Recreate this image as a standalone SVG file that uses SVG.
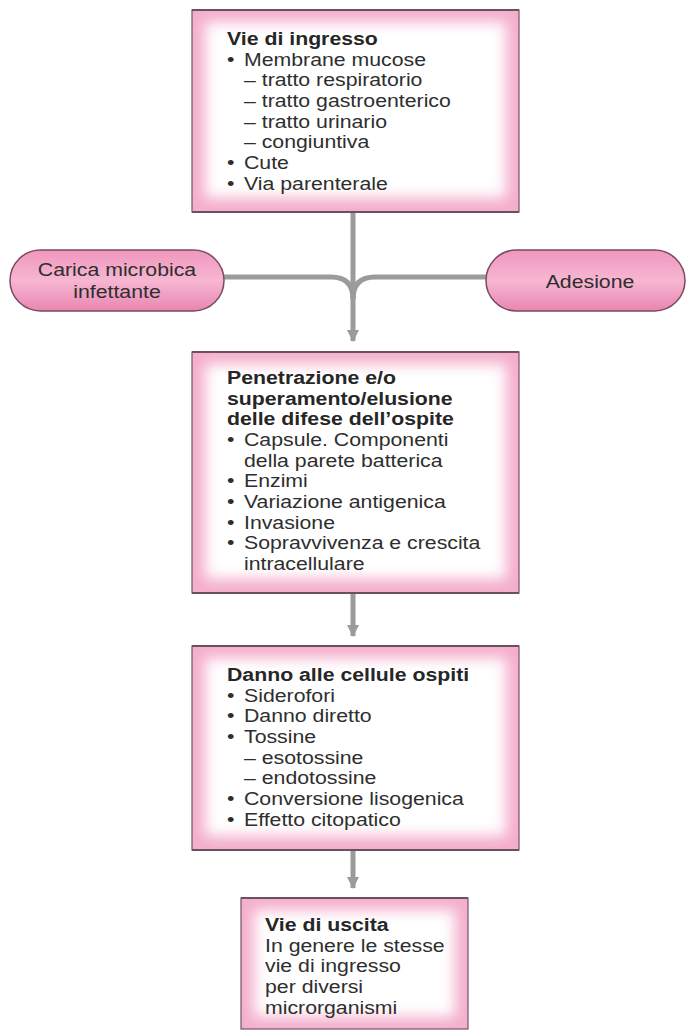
<svg xmlns="http://www.w3.org/2000/svg" width="687" height="1030" viewBox="0 0 687 1030">
<style>
.t{font-family:"Liberation Sans",Arial,sans-serif;font-size:18.5px;fill:#2e2e2e}
.b{font-weight:bold;fill:#262626}
.conn{fill:none;stroke:#9b9b9b;stroke-width:5}
.edge{fill:none;stroke:#6e5565;stroke-width:1.2}
.tb{stroke:#6a5060;stroke-width:2.2}
.pill{fill:url(#pillg);stroke:#7a4a62;stroke-width:1.5}
</style>
<defs>
<filter id="soft" x="-20%" y="-20%" width="140%" height="140%"><feGaussianBlur stdDeviation="7"/></filter>
<linearGradient id="pillg" x1="0" y1="0" x2="0" y2="1">
<stop offset="0" stop-color="#ef97bd"/>
<stop offset="0.5" stop-color="#f7b6d2"/>
<stop offset="1" stop-color="#e886b1"/>
</linearGradient>
<marker id="ah" viewBox="0 0 12 12" refX="11" refY="6" markerWidth="12" markerHeight="12" markerUnits="userSpaceOnUse" orient="auto">
<path d="M0,0 L12,6 L0,12 Z" fill="#9b9b9b"/>
</marker>
</defs>
<rect width="687" height="1030" fill="#ffffff"/>

<g id="connectors">
<line class="conn" x1="353" y1="212" x2="353" y2="341" marker-end="url(#ah)" stroke-width="5"/>
<path class="conn" d="M224,277 H331 Q353,277 353,299"/>
<path class="conn" d="M486,277 H375 Q353,277 353,299"/>
<line class="conn" x1="353" y1="593" x2="353" y2="636" marker-end="url(#ah)"/>
<line class="conn" x1="353" y1="850" x2="353" y2="888" marker-end="url(#ah)"/>
</g>

<g id="box-ingresso">
<rect x="192" y="10" width="327" height="202" fill="#f4aecb"/>
<rect x="205" y="22" width="301" height="176" fill="#ffffff" filter="url(#soft)"/>
<rect class="edge" x="192" y="10" width="327" height="202"/>
<line class="tb" x1="192" y1="10" x2="519" y2="10"/>
<line class="tb" x1="192" y1="212" x2="519" y2="212"/>
<g class="t" transform="translate(227 0) scale(1.15 1)">
<text class="b" x="0" y="45">Vie di ingresso</text>
<text x="0" y="66">•</text><text x="14.8" y="66">Membrane mucose</text>
<text x="14.8" y="86">– tratto respiratorio</text>
<text x="14.8" y="107">– tratto gastroenterico</text>
<text x="14.8" y="128">– tratto urinario</text>
<text x="14.8" y="148">– congiuntiva</text>
<text x="0" y="169">•</text><text x="14.8" y="169">Cute</text>
<text x="0" y="190">•</text><text x="14.8" y="190">Via parenterale</text>
</g>
</g>

<g id="pill-carica">
<rect class="pill" x="10" y="250" width="214" height="61" rx="30.5"/>
<g class="t" transform="translate(117 0) scale(1.15 1)" text-anchor="middle">
<text x="0" y="276">Carica microbica</text>
<text x="0" y="298">infettante</text>
</g>
</g>

<g id="pill-adesione">
<rect class="pill" x="486" y="250" width="199" height="61" rx="30.5"/>
<g class="t" transform="translate(590 0) scale(1.15 1)" text-anchor="middle">
<text x="0" y="288">Adesione</text>
</g>
</g>

<g id="box-penetrazione">
<rect x="192" y="352" width="327" height="241" fill="#f4aecb"/>
<rect x="205" y="364" width="301" height="215" fill="#ffffff" filter="url(#soft)"/>
<rect class="edge" x="192" y="352" width="327" height="241"/>
<line class="tb" x1="192" y1="352" x2="519" y2="352"/>
<line class="tb" x1="192" y1="593" x2="519" y2="593"/>
<g class="t" transform="translate(227 0) scale(1.15 1)">
<text class="b" x="0" y="384">Penetrazione e/o</text>
<text class="b" x="0" y="405">superamento/elusione</text>
<text class="b" x="0" y="425">delle difese dell’ospite</text>
<text x="0" y="446">•</text><text x="14.8" y="446">Capsule. Componenti</text>
<text x="14.8" y="467">della parete batterica</text>
<text x="0" y="487">•</text><text x="14.8" y="487">Enzimi</text>
<text x="0" y="508">•</text><text x="14.8" y="508">Variazione antigenica</text>
<text x="0" y="529">•</text><text x="14.8" y="529">Invasione</text>
<text x="0" y="549">•</text><text x="14.8" y="549">Sopravvivenza e crescita</text>
<text x="14.8" y="570">intracellulare</text>
</g>
</g>

<g id="box-danno">
<rect x="192" y="646" width="327" height="204" fill="#f4aecb"/>
<rect x="205" y="658" width="301" height="178" fill="#ffffff" filter="url(#soft)"/>
<rect class="edge" x="192" y="646" width="327" height="204"/>
<line class="tb" x1="192" y1="646" x2="519" y2="646"/>
<line class="tb" x1="192" y1="850" x2="519" y2="850"/>
<g class="t" transform="translate(227 0) scale(1.15 1)">
<text class="b" x="0" y="681">Danno alle cellule ospiti</text>
<text x="0" y="702">•</text><text x="14.8" y="702">Siderofori</text>
<text x="0" y="722">•</text><text x="14.8" y="722">Danno diretto</text>
<text x="0" y="743">•</text><text x="14.8" y="743">Tossine</text>
<text x="14.8" y="764">– esotossine</text>
<text x="14.8" y="784">– endotossine</text>
<text x="0" y="805">•</text><text x="14.8" y="805">Conversione lisogenica</text>
<text x="0" y="826">•</text><text x="14.8" y="826">Effetto citopatico</text>
</g>
</g>

<g id="box-uscita">
<rect x="241" y="898" width="227" height="131" fill="#f4aecb"/>
<rect x="254" y="910" width="201" height="107" fill="#ffffff" filter="url(#soft)"/>
<rect class="edge" x="241" y="898" width="227" height="131"/>
<line class="tb" x1="241" y1="898" x2="468" y2="898"/>
<g class="t" transform="translate(265 0) scale(1.15 1)">
<text class="b" x="0" y="931">Vie di uscita</text>
<text x="0" y="952">In genere le stesse</text>
<text x="0" y="972">vie di ingresso</text>
<text x="0" y="993">per diversi</text>
<text x="0" y="1014">microrganismi</text>
</g>
</g>
</svg>
